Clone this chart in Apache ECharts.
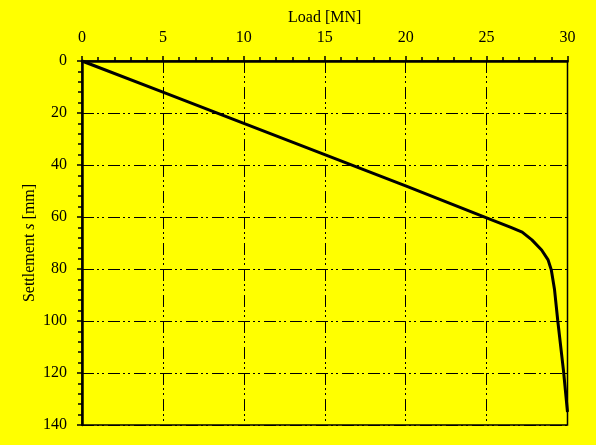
<!DOCTYPE html>
<html>
<head>
<meta charset="utf-8">
<script src="https://cdn.jsdelivr.net/npm/echarts@6/dist/echarts.min.js"></script>
<style>
  html, body { margin: 0; padding: 0; background: #ffff00; }
  #chart { width: 596px; height: 445px; }
</style>
</head>
<body>
<div id="chart"></div>
<script>
// Load–settlement curve of a pile load test
const loadMN = [0, 5, 10, 15, 20, 25, 26.5, 27.2, 27.8, 28.4, 28.8, 29.0, 29.2, 29.4, 29.75, 30.0];
const settlementMM = [0, 12, 24, 36, 48, 60.3, 64, 65.8, 68.8, 72.7, 76.5, 80.4, 88, 100, 119, 135];
const loadTicks = [0, 5, 10, 15, 20, 25, 30];
const settlementTicks = [0, 20, 40, 60, 80, 100, 120, 140];

const font = 'Liberation Serif';
const gridDash = [12, 3, 2, 3, 2, 4];

const chart = echarts.init(document.getElementById('chart'), null, { renderer: 'canvas' });

chart.setOption({
  backgroundColor: '#ffff00',
  animation: false,
  grid: {
    left: 82, right: 28.5, top: 61, bottom: 20,
    show: true, borderColor: '#000', borderWidth: 1.5, backgroundColor: 'transparent'
  },
  xAxis: {
    type: 'value',
    position: 'top',
    min: loadTicks[0],
    max: loadTicks[loadTicks.length - 1],
    interval: loadTicks[1] - loadTicks[0],
    name: 'Load [MN]',
    nameLocation: 'middle',
    nameGap: 35,
    nameMoveOverlap: false,
    nameTextStyle: { fontFamily: font, fontSize: 16, color: '#000' },
    axisLine: { show: true, onZero: false, lineStyle: { color: '#000', width: 2.5 } },
    axisTick: { show: true, inside: false, length: 5, lineStyle: { color: '#000', width: 1.5 } },
    minorTick: { show: true, splitNumber: 5, length: 4, lineStyle: { color: '#000', width: 1.5 } },
    axisLabel: { fontFamily: font, fontSize: 16, color: '#000', margin: 15 },
    splitLine: { show: true, lineStyle: { color: '#000', width: 1, type: gridDash } }
  },
  yAxis: {
    type: 'value',
    inverse: true,
    min: settlementTicks[0],
    max: settlementTicks[settlementTicks.length - 1],
    interval: settlementTicks[1] - settlementTicks[0],
    name: '{a|Settlement }{b|s}{a| [mm]}',
    nameLocation: 'middle',
    nameGap: 44,
    nameMoveOverlap: false,
    nameRotate: 90,
    nameTextStyle: {
      rich: {
        a: { fontFamily: font, fontSize: 16, color: '#000' },
        b: { fontFamily: font, fontSize: 16, color: '#000', fontStyle: 'italic' }
      }
    },
    axisLine: { show: true, onZero: false, lineStyle: { color: '#000', width: 2.5 } },
    axisTick: { show: true, inside: false, length: 5, lineStyle: { color: '#000', width: 1.5 } },
    minorTick: { show: true, splitNumber: 5, length: 4, lineStyle: { color: '#000', width: 1.5 } },
    axisLabel: { fontFamily: font, fontSize: 16, color: '#000', margin: 15 },
    splitLine: { show: true, lineStyle: { color: '#000', width: 1, type: gridDash } }
  },
  series: [{
    type: 'line',
    data: loadMN.map((x, i) => [x, settlementMM[i]]),
    showSymbol: false,
    smooth: false,
    clip: false,
    lineStyle: { color: '#000', width: 3 }
  }]
});
</script>
</body>
</html>
